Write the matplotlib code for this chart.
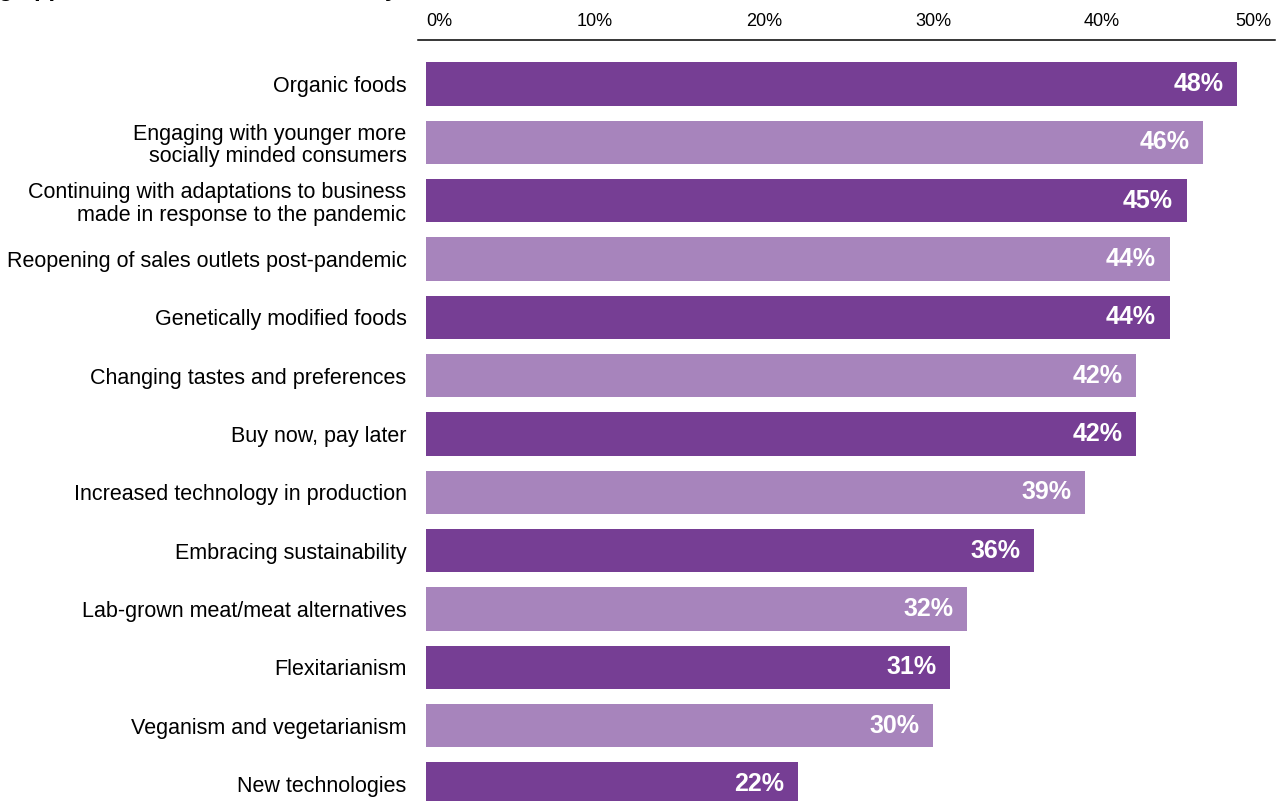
import matplotlib.pyplot as plt
from matplotlib.lines import Line2D

# 类别与数值（百分比）
categories = [
    'Organic foods',
    'Engaging with younger more\nsocially minded consumers',
    'Continuing with adaptations to business\nmade in response to the pandemic',
    'Reopening of sales outlets post-pandemic',
    'Genetically modified foods',
    'Changing tastes and preferences',
    'Buy now, pay later',
    'Increased technology in production',
    'Embracing sustainability',
    'Lab-grown meat/meat alternatives',
    'Flexitarianism',
    'Veganism and vegetarianism',
    'New technologies',
]
values = [48, 46, 45, 44, 44, 42, 42, 39, 36, 32, 31, 30, 22]
ticks = [0, 10, 20, 30, 40, 50]
tick_labels = ['0%', '10%', '20%', '30%', '40%', '50%']

DARK = '#763e94'
LIGHT = '#a784bc'

plt.rcParams['font.family'] = ['Liberation Sans', 'DejaVu Sans']

W, H = 1282, 801
fig = plt.figure(figsize=(W / 100, H / 100), dpi=100)
ax = fig.add_axes([426 / W, 0, 845 / W, 761 / H])

colors = [DARK if i % 2 == 0 else LIGHT for i in range(len(values))]
y = list(range(len(values)))
ax.barh(y, values, height=0.74, color=colors)

for yi, v in zip(y, values):
    ax.text(v - 0.8, yi, f'{v}%', ha='right', va='center',
            color='white', fontsize=18, fontweight='bold')

ax.set_xlim(0, 50)
ax.set_ylim(12.29, -0.754)
ax.set_yticks(y)
ax.set_yticklabels(categories, fontsize=15.5, linespacing=1.1)
ax.tick_params(axis='y', length=0, pad=14)

ax.xaxis.tick_top()
ax.set_xticks(ticks)
ax.set_xticklabels(tick_labels, fontsize=13)
ax.tick_params(axis='x', length=0, pad=7)
xl = ax.get_xticklabels()
xl[0].set_ha('left')
xl[0].set_x(-0.4)
xl[-1].set_ha('right')

for s in ax.spines.values():
    s.set_visible(False)

# 顶部横线
fig.add_artist(Line2D([418 / W, 1275 / W], [1 - 40 / H, 1 - 40 / H],
                      color='black', linewidth=1.1))

# 标题（上半部分在画布外）
fig.text(-0.075, 1 + 4 / H, 'Emerging opportunities in the food industry',
         fontsize=17, fontweight='bold', va='baseline', ha='left')

fig.savefig('out.png', dpi=100)
